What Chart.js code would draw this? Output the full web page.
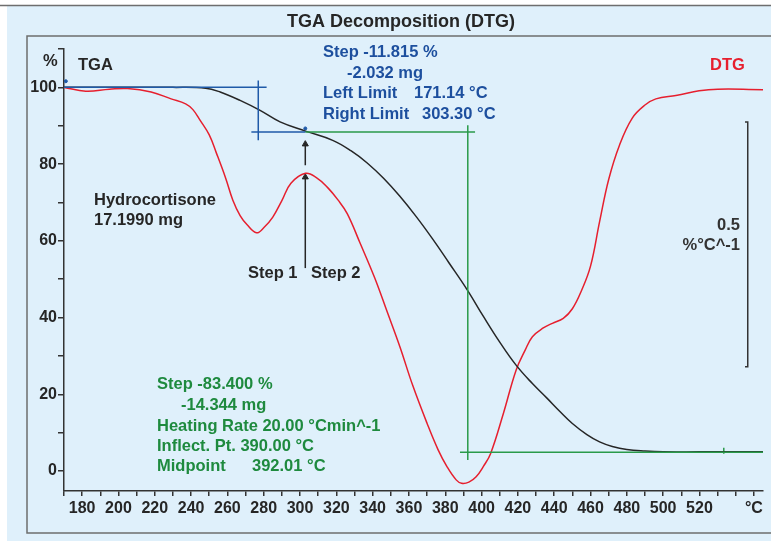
<!DOCTYPE html>
<html>
<head>
<meta charset="utf-8">
<title>TGA Decomposition (DTG)</title>
<script src="https://cdn.jsdelivr.net/npm/chart.js@4.4.1/dist/chart.umd.min.js"></script>
<style>
  html, body { margin: 0; padding: 0; background: #fff; }
  canvas { display: block; }
</style>
</head>
<body>
<canvas id="tga-chart" width="771" height="543"></canvas>
<script>
// TGA curve (weight %)
const tgaTemp  = [170, 200, 230, 248, 256, 267, 278, 289, 303, 318, 328, 337, 346, 355, 364, 373, 382, 392, 401, 410, 419, 428, 436, 443, 450, 458, 465, 472, 480, 490, 500, 520, 555];
const tgaValue = [100, 100, 100, 99.8, 98.8, 96.6, 94, 91, 88.6, 86.2, 83.5, 80.3, 76.3, 71.6, 66.3, 60.5, 54.3, 47.3, 40.3, 33.6, 27.6, 22.8, 19, 15.6, 12.4, 9.5, 7.6, 6.4, 5.6, 5.2, 5.0, 5.0, 5.0];

// DTG curve, in the same display units as the % axis
const dtgTemp  = [170, 182, 195, 205, 218, 229, 237, 241, 245, 250, 254, 259, 263, 267, 271, 276, 280, 285, 290, 295, 303, 309, 315, 321, 326, 333, 341, 348, 355, 362, 370, 376, 381, 386, 389, 393, 397, 401, 405, 412, 419, 424, 428, 434, 439, 445, 450, 455, 460, 465, 470, 476, 483, 490, 496, 507, 525, 555];
const dtgValue = [100, 99, 99.5, 99.7, 98.8, 97, 95.7, 94.2, 91.4, 87.6, 82.8, 76.4, 70.6, 66.6, 64.1, 62.1, 63.4, 66.2, 70.5, 75, 77.6, 76.5, 74, 70.6, 67.1, 59.5, 50.5, 41.5, 32.4, 22.4, 12.4, 5.6, 1.1, -2.3, -3.2, -2.9, -1.5, 1.2, 4.6, 15, 26.3, 31.5, 35, 37.3, 38.5, 39.8, 42.3, 47, 53.4, 65, 76, 85, 92, 95.4, 97, 97.9, 99.4, 99.4];

// evaluation lines [temp, value]
const step1Lines = [
  [[170, 100], [281.6, 100]],
  [[277, 101.8], [277, 86.2]],
  [[273.2, 88.4], [302.9, 88.4]]
];
const step2Lines = [
  [[302.9, 88.4], [396.4, 88.4]],
  [[392.4, 90.1], [392.4, 2.9]],
  [[388.1, 4.87], [560, 4.87]]
];
const arrowUpper = [[302.9, 79.7], [302.9, 85.2]];
const arrowLower = [[302.9, 52.9], [302.9, 76.6]];
const dtgScaleBar = [[545.1, 91], [546.6, 91], [546.6, 27.2], [545.1, 27.2]];
const blueMarks = [[171, 101.6], [302.9, 89.3]];
const greenMarks = [[533.4, 5.3]];

const xTickValues = [170, 180, 190, 200, 210, 220, 230, 240, 250, 260, 270, 280, 290, 300, 310, 320, 330, 340, 350, 360, 370, 380, 390, 400, 410, 420, 430, 440, 450, 460, 470, 480, 490, 500, 510, 520, 530, 540, 550];
const yTickValues = [0, 10, 20, 30, 40, 50, 60, 70, 80, 90, 100, 110];

const FONT = "'Liberation Sans', Arial, Helvetica, sans-serif";
const BLUE = "#1f5aa8";
const BLUE_TEXT = "#1d4f9e";
const GREEN = "#2a9a4a";
const GREEN_TEXT = "#1e8a3e";
const RED = "#e61f2e";
const INK = "#262626";

function toPoints(xs, ys) {
  return xs.map((x, i) => ({ x: x, y: ys[i] }));
}

function segment(pairs, color, width) {
  return {
    data: pairs.map(p => ({ x: p[0], y: p[1] })),
    borderColor: color,
    borderWidth: width || 1.5,
    pointRadius: 0,
    tension: 0,
    fill: false
  };
}

const datasets = [];
step1Lines.forEach(s => datasets.push(segment(s, BLUE)));
step2Lines.forEach(s => datasets.push(segment(s, GREEN)));
datasets.push({
  label: "TGA",
  data: toPoints(tgaTemp, tgaValue),
  borderColor: INK,
  borderWidth: 1.5,
  pointRadius: 0,
  tension: 0.4,
  fill: false
});
datasets.push({
  label: "DTG",
  data: toPoints(dtgTemp, dtgValue),
  borderColor: RED,
  borderWidth: 1.5,
  pointRadius: 0,
  tension: 0.4,
  fill: false
});
[arrowUpper, arrowLower].forEach(a => {
  const ds = segment(a, INK, 1.5);
  ds.pointRadius = [0, 3.5];
  ds.pointStyle = "triangle";
  ds.pointBackgroundColor = INK;
  ds.pointBorderColor = INK;
  ds.pointBorderWidth = 1;
  datasets.push(ds);
});
datasets.push(segment(dtgScaleBar, "#333", 1.5));
datasets.push({
  type: "scatter",
  data: blueMarks.map(p => ({ x: p[0], y: p[1] })),
  pointRadius: 1.5,
  pointBackgroundColor: BLUE,
  pointBorderColor: BLUE
});
datasets.push({
  type: "scatter",
  data: greenMarks.map(p => ({ x: p[0], y: p[1] })),
  pointStyle: "line",
  rotation: 90,
  pointRadius: 3,
  pointBorderColor: GREEN,
  pointBorderWidth: 1.5
});

// panel background, frame, title and text annotations
const decorations = {
  id: "decorations",
  beforeDraw(chart) {
    const ctx = chart.ctx;
    ctx.save();
    ctx.fillStyle = "#ffffff";
    ctx.fillRect(0, 0, chart.width, chart.height);
    ctx.fillStyle = "#dff0fb";
    ctx.fillRect(7, 6, chart.width - 7, chart.height - 8);
    ctx.strokeStyle = "#6e6e6e";
    ctx.lineWidth = 1.5;
    ctx.beginPath();
    ctx.moveTo(0, 5.5);
    ctx.lineTo(chart.width, 5.5);
    ctx.stroke();
    ctx.beginPath();
    ctx.moveTo(chart.width + 2, 36);
    ctx.lineTo(27, 36);
    ctx.lineTo(27, 533);
    ctx.lineTo(chart.width + 2, 533);
    ctx.stroke();
    ctx.fillStyle = INK;
    ctx.font = "bold 18px " + FONT;
    ctx.textAlign = "center";
    ctx.textBaseline = "middle";
    ctx.fillText("TGA Decomposition (DTG)", 401, 22);
    ctx.restore();
  },
  afterDraw(chart) {
    const ctx = chart.ctx;
    ctx.save();
    ctx.font = "bold 16.5px " + FONT;
    ctx.textBaseline = "middle";
    ctx.textAlign = "left";
    const put = (text, x, y, color) => {
      ctx.fillStyle = color;
      ctx.fillText(text, x, y);
    };
    put("%", 43, 61, INK);
    put("TGA", 78, 65, INK);
    put("DTG", 710, 65, RED);
    put("Hydrocortisone", 94, 200, INK);
    put("17.1990 mg", 94, 220, INK);
    put("Step 1", 248, 273, INK);
    put("Step 2", 311, 273, INK);

    put("Step -11.815 %", 323, 52, BLUE_TEXT);
    put("-2.032 mg", 347, 73, BLUE_TEXT);
    put("Left Limit", 323, 93, BLUE_TEXT);
    put("171.14 °C", 414, 93, BLUE_TEXT);
    put("Right Limit", 323, 114, BLUE_TEXT);
    put("303.30 °C", 422, 114, BLUE_TEXT);

    put("Step -83.400 %", 157, 384, GREEN_TEXT);
    put("-14.344 mg", 181, 405, GREEN_TEXT);
    put("Heating Rate 20.00 °Cmin^-1", 157, 426, GREEN_TEXT);
    put("Inflect. Pt. 390.00 °C", 157, 446, GREEN_TEXT);
    put("Midpoint", 157, 466, GREEN_TEXT);
    put("392.01 °C", 252, 466, GREEN_TEXT);

    ctx.textAlign = "right";
    put("0.5", 740, 225, "#333");
    put("%°C^-1", 740, 245, "#333");
    ctx.restore();
  }
};

Chart.defaults.font.family = FONT;

new Chart(document.getElementById("tga-chart").getContext("2d"), {
  type: "line",
  data: { datasets: datasets },
  options: {
    responsive: false,
    animation: false,
    events: [],
    layout: {
      padding: { left: 0, right: 8, top: 49, bottom: 0 }
    },
    plugins: {
      legend: { display: false },
      tooltip: { enabled: false },
      title: { display: false }
    },
    scales: {
      x: {
        type: "linear",
        min: 170,
        max: 555,
        afterBuildTicks: (scale) => {
          scale.ticks = xTickValues.map(v => ({ value: v }));
        },
        afterFit: (scale) => { scale.height = 52; },
        ticks: {
          autoSkip: false,
          maxRotation: 0,
          padding: 3,
          color: INK,
          font: { size: 16, weight: "bold" },
          callback: (value) => {
            if (value === 550) return "°C";
            if (value >= 180 && value <= 520 && value % 20 === 0) return String(value);
            return "";
          }
        },
        grid: {
          drawOnChartArea: false,
          drawTicks: true,
          tickLength: 5,
          color: "#333",
          lineWidth: 1.5
        },
        border: { display: true, color: "#333", width: 1.5 }
      },
      y: {
        type: "linear",
        min: -5.2,
        max: 110,
        afterBuildTicks: (scale) => {
          scale.ticks = yTickValues.map(v => ({ value: v }));
        },
        afterFit: (scale) => { scale.width = 64; },
        ticks: {
          autoSkip: false,
          padding: 1,
          color: INK,
          font: { size: 16, weight: "bold" },
          callback: (value) => (value % 20 === 0 && value <= 100 ? String(value) : "")
        },
        grid: {
          drawOnChartArea: false,
          drawTicks: true,
          tickLength: 6,
          color: "#333",
          lineWidth: 1.5
        },
        border: { display: true, color: "#333", width: 1.5 }
      }
    }
  },
  plugins: [decorations]
});
</script>
</body>
</html>
